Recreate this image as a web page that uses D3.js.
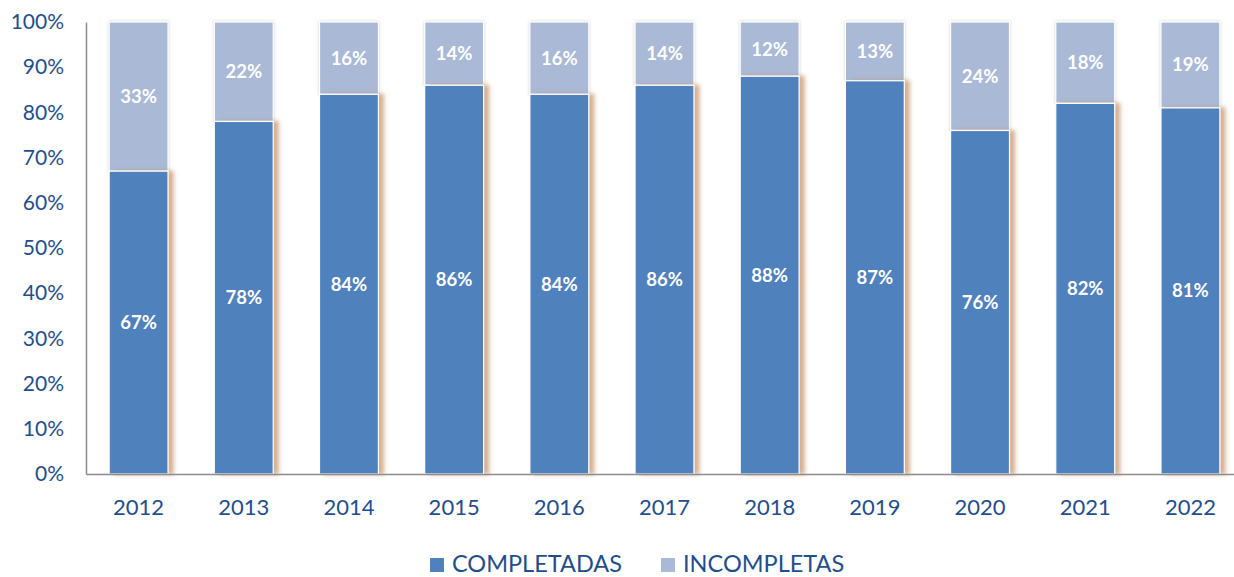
<!DOCTYPE html>
<html><head><meta charset="utf-8">
<script src="https://cdn.jsdelivr.net/npm/d3@7"></script>
<style>body{margin:0;background:#fff}svg{display:block}</style>
</head><body>
<svg id="c" width="1234" height="577"></svg>
<script>
const years = ["2012","2013","2014","2015","2016","2017","2018","2019","2020","2021","2022"];
const completadas = [67,78,84,86,84,86,88,87,76,82,81];
const incompletas = [33,22,16,14,16,14,12,13,24,18,19];
const yTicks = [0,10,20,30,40,50,60,70,80,90,100];
const seriesNames = ["COMPLETADAS","INCOMPLETAS"];
const colors = ["#4F81BD","#A9B9D6"];
const textColor = "#1F4E8C";
const font = "Lato, 'Open Sans', sans-serif";

const svg = d3.select("#c");
const mLeft = 86, mRight = 1243, mTop = 22, mBottom = 474;
const x = d3.scaleBand().domain(years).range([mLeft, mRight]).paddingInner(0.44).paddingOuter(0.22);
const y = d3.scaleLinear().domain([0,100]).range([mBottom, mTop]);

const defs = svg.append("defs");
const f1 = defs.append("filter").attr("id","shC").attr("x","-20%").attr("y","-5%").attr("width","150%").attr("height","110%");
f1.append("feDropShadow").attr("dx",5).attr("dy",0).attr("stdDeviation",2.2).attr("flood-color","#C8956A").attr("flood-opacity",0.75);
const f2 = defs.append("filter").attr("id","shI").attr("x","-20%").attr("y","-10%").attr("width","140%").attr("height","120%");
f2.append("feDropShadow").attr("dx",0).attr("dy",0).attr("stdDeviation",1.5).attr("flood-color","#999").attr("flood-opacity",0.5);

const data = years.map((yr,i)=>({yr, c:completadas[i], n:incompletas[i]}));

const g = svg.append("g");
g.selectAll("rect.inc").data(data).join("rect").attr("class","inc")
  .attr("x", d=>x(d.yr)).attr("width", x.bandwidth())
  .attr("y", d=>y(d.c+d.n)).attr("height", d=>y(d.c)-y(d.c+d.n))
  .attr("fill", colors[1]).attr("stroke","#fff").attr("stroke-width",1.2).attr("filter","url(#shI)");
g.selectAll("rect.comp").data(data).join("rect").attr("class","comp")
  .attr("x", d=>x(d.yr)).attr("width", x.bandwidth())
  .attr("y", d=>y(d.c)).attr("height", d=>y(0)-y(d.c))
  .attr("fill", colors[0]).attr("stroke","#fff").attr("stroke-width",1.2).attr("filter","url(#shC)");

g.selectAll("text.lc").data(data).join("text").attr("class","lc")
  .attr("x", d=>x(d.yr)+x.bandwidth()/2).attr("y", d=>(y(d.c)+y(0))/2)
  .attr("dy","0.35em").attr("text-anchor","middle")
  .attr("fill","#fff").attr("font-weight","bold").attr("font-size",18.5).attr("font-family",font)
  .text(d=>d.c+"%");
g.selectAll("text.ln").data(data).join("text").attr("class","ln")
  .attr("x", d=>x(d.yr)+x.bandwidth()/2).attr("y", d=>(y(d.c)+y(d.c+d.n))/2)
  .attr("dy","0.35em").attr("text-anchor","middle")
  .attr("fill","#fff").attr("font-weight","bold").attr("font-size",18.5).attr("font-family",font)
  .text(d=>d.n+"%");

const yAxis = svg.append("g").attr("transform",`translate(${mLeft},0)`)
  .call(d3.axisLeft(y).tickValues(yTicks).tickFormat(d=>d+"%").tickSize(0).tickPadding(22));
yAxis.select(".domain").attr("stroke","#8C8C8C").attr("stroke-width",1.5);
yAxis.selectAll("text").attr("fill",textColor).attr("font-size",21).attr("font-family",font);

const xAxis = svg.append("g").attr("transform",`translate(0,${mBottom})`)
  .call(d3.axisBottom(x).tickSize(0).tickPadding(25));
xAxis.select(".domain").attr("stroke","#8C8C8C").attr("stroke-width",1.5);
xAxis.selectAll("text").attr("fill",textColor).attr("font-size",22).attr("font-family",font);

const leg = svg.append("g");
const legX = [430, 661];
seriesNames.forEach((name,i)=>{
  leg.append("rect").attr("x",legX[i]).attr("y",558).attr("width",14).attr("height",14).attr("fill",colors[i]);
  leg.append("text").attr("x",legX[i]+22).attr("y",572).attr("fill",textColor)
    .attr("font-size",23.5).attr("font-family",font).text(name);
});
</script>
</body></html>
